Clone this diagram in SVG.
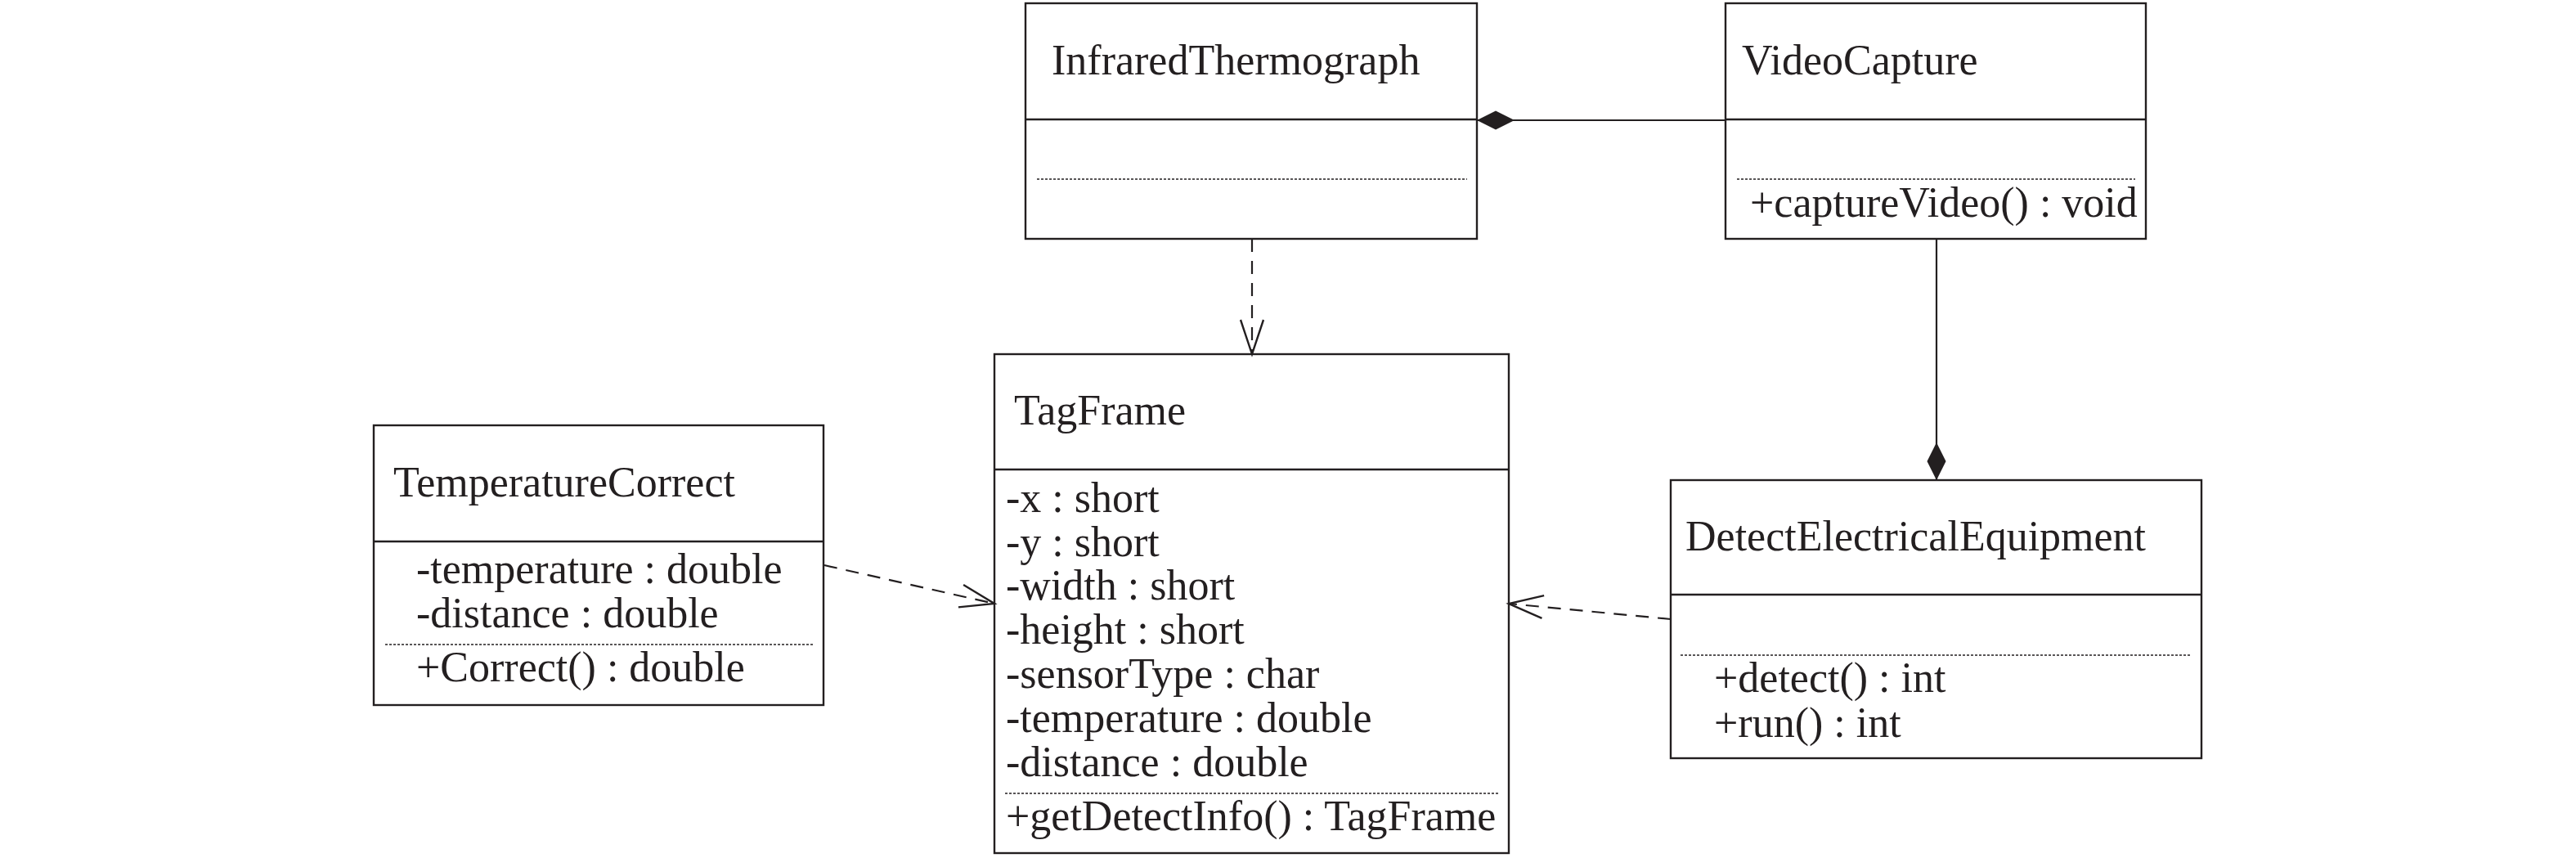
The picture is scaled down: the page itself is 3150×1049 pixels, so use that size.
<svg xmlns="http://www.w3.org/2000/svg" width="3150" height="1049" viewBox="0 0 3150 1049">
<style>
  .box { fill: #ffffff; stroke: #231f20; stroke-width: 2.4; }
  .div { stroke: #231f20; stroke-width: 2.4; fill: none; }
  .dot { stroke: #231f20; stroke-width: 1.5; stroke-dasharray: 3 2; fill: none; }
  .t { font-family: "Liberation Serif", "Times New Roman", serif; font-size: 52px; fill: #231f20; }
  .solid { stroke: #231f20; stroke-width: 2.2; fill: none; }
  .dash { stroke: #231f20; stroke-width: 2.2; fill: none; stroke-dasharray: 16 11; }
</style>
<defs>
  <marker id="openArrow" markerUnits="userSpaceOnUse" viewBox="-50 -20 60 40" refX="0" refY="0" markerWidth="60" markerHeight="40" orient="auto" overflow="visible">
    <path d="M-42,-14 L0,0 L-42,14" fill="none" stroke="#231f20" stroke-width="2.4" stroke-dasharray="none"/>
  </marker>
  <marker id="diamond" markerUnits="userSpaceOnUse" viewBox="-5 -15 60 30" refX="0" refY="0" markerWidth="60" markerHeight="30" orient="auto" overflow="visible">
    <path d="M0,0 L23,-11.5 L46,0 L23,11.5 Z" fill="#231f20" stroke="none"/>
  </marker>
</defs>
<rect width="3150" height="1049" fill="#ffffff"/>

<g id="InfraredThermograph">
  <rect class="box" x="1254" y="4" width="552" height="288"/>
  <line class="div" x1="1254" y1="146" x2="1806" y2="146"/>
  <line class="dot" x1="1268" y1="219" x2="1794" y2="219"/>
  <text class="t" x="1286" y="91">InfraredThermograph</text>
</g>

<g id="VideoCapture">
  <rect class="box" x="2110" y="4" width="514" height="288"/>
  <line class="div" x1="2110" y1="146" x2="2624" y2="146"/>
  <line class="dot" x1="2124" y1="219" x2="2611" y2="219"/>
  <text class="t" x="2130" y="91">VideoCapture</text>
  <text class="t" x="2140" y="265">+captureVideo() : void</text>
</g>

<g id="TagFrame">
  <rect class="box" x="1216" y="433" width="629" height="610"/>
  <line class="div" x1="1216" y1="574" x2="1845" y2="574"/>
  <line class="dot" x1="1229" y1="970" x2="1833" y2="970"/>
  <text class="t" x="1240" y="519">TagFrame</text>
  <text class="t" x="1230" y="626">-x : short</text>
  <text class="t" x="1230" y="680">-y : short</text>
  <text class="t" x="1230" y="733">-width : short</text>
  <text class="t" x="1230" y="787">-height : short</text>
  <text class="t" x="1230" y="841">-sensorType : char</text>
  <text class="t" x="1230" y="895">-temperature : double</text>
  <text class="t" x="1230" y="949">-distance : double</text>
  <text class="t" x="1230" y="1015">+getDetectInfo() : TagFrame</text>
</g>

<g id="TemperatureCorrect">
  <rect class="box" x="457" y="520" width="550" height="342"/>
  <line class="div" x1="457" y1="662" x2="1007" y2="662"/>
  <line class="dot" x1="471" y1="788" x2="996" y2="788"/>
  <text class="t" x="481" y="607">TemperatureCorrect</text>
  <text class="t" x="509" y="713">-temperature : double</text>
  <text class="t" x="509" y="767">-distance : double</text>
  <text class="t" x="509" y="833">+Correct() : double</text>
</g>

<g id="DetectElectricalEquipment">
  <rect class="box" x="2043" y="587" width="649" height="340"/>
  <line class="div" x1="2043" y1="727" x2="2692" y2="727"/>
  <line class="dot" x1="2055" y1="801" x2="2678" y2="801"/>
  <text class="t" x="2061" y="673">DetectElectricalEquipment</text>
  <text class="t" x="2096" y="846">+detect() : int</text>
  <text class="t" x="2096" y="901">+run() : int</text>
</g>

<g id="connectors">
  <line class="solid" x1="1806" y1="147" x2="2110" y2="147" marker-start="url(#diamond)"/>
  <line class="solid" x1="2368" y1="587" x2="2368" y2="292" marker-start="url(#diamond)"/>
  <line class="dash" x1="1531" y1="292" x2="1531" y2="433" marker-end="url(#openArrow)"/>
  <line class="dash" x1="1008" y1="691" x2="1216" y2="738" marker-end="url(#openArrow)"/>
  <line class="dash" x1="2043" y1="757" x2="1845" y2="738" marker-end="url(#openArrow)"/>
</g>
</svg>
